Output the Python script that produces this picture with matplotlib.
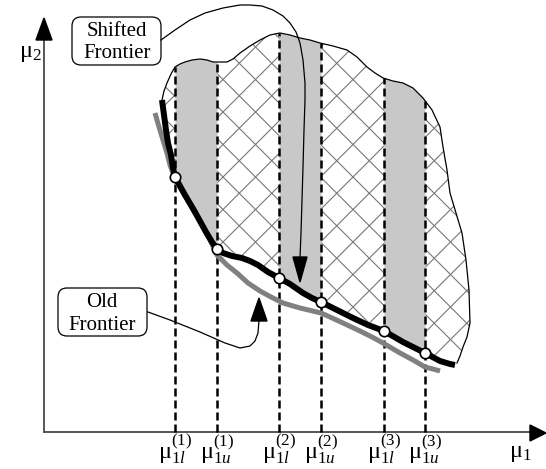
import numpy as np
import matplotlib
matplotlib.use('Agg')
import matplotlib.pyplot as plt
from matplotlib.patches import Polygon, FancyBboxPatch

plt.rcParams['font.family'] = ['Liberation Serif', 'DejaVu Serif']
plt.rcParams['mathtext.fontset'] = 'custom'
plt.rcParams['mathtext.rm'] = 'Liberation Serif'
plt.rcParams['mathtext.it'] = 'Liberation Serif:italic'

# schematic drawn in pixel units of the 546x469 picture (y grows downwards)
# shifted frontier (black, thick)
front_x = [162, 164, 166, 168, 171, 173, 175, 185, 195, 206, 212, 217, 223, 232, 242, 250,
           258, 268, 279, 290, 303, 312, 321, 337, 353, 368, 384, 403, 415, 425, 440, 450, 455]
front_y = [100, 115, 130, 143, 155, 168, 177, 195, 212, 232, 242, 249, 253, 256, 258, 261,
           265, 272, 278, 284, 293, 298, 302, 310, 318, 325, 331, 342, 348, 353, 361, 364, 365]

# old frontier (gray)
old_x = [155, 159, 163, 167, 170, 174, 178, 187, 195, 203, 210, 217, 227, 237, 248, 260,
         271, 283, 300, 321, 330, 343, 360, 372, 383, 400, 413, 425, 433, 440]
old_y = [113, 127, 140, 153, 165, 176, 184, 199, 213, 227, 240, 255, 265, 273, 283, 291,
         297, 303, 308, 313, 317, 323, 331, 337, 343, 353, 360, 367, 369, 371]

# upper/right outline of the feasible (cross-hatched) region
top_x = [162, 164, 167, 171, 175, 180, 185, 192, 200, 207, 213, 220, 227, 233, 240, 250,
         260, 270, 280, 290, 300, 310, 320, 333, 347, 357, 367, 375, 383, 393, 403, 413,
         423, 432, 440, 443, 447, 450, 456, 462, 466, 469, 470, 467, 463, 460, 457]
top_y = [100, 91, 83, 74, 67, 64, 62, 60, 59, 60, 62, 62, 62, 59, 53, 46,
         40, 35, 33, 35, 38, 40, 43, 46, 50, 57, 67, 73, 78, 81, 83, 88,
         98, 110, 127, 147, 170, 193, 213, 233, 260, 290, 323, 337, 347, 356, 363]

# interval bounds on mu_1 (dashed lines)
bounds_x = [175, 217, 279, 321, 384, 425]
bound_labels = [r'$\mathrm{\mu}_{1l}^{(1)}$', r'$\mathrm{\mu}_{1u}^{(1)}$',
                r'$\mathrm{\mu}_{1l}^{(2)}$', r'$\mathrm{\mu}_{1u}^{(2)}$',
                r'$\mathrm{\mu}_{1l}^{(3)}$', r'$\mathrm{\mu}_{1u}^{(3)}$']

# callout leaders
shift_x = [161, 175, 190, 205, 223, 240, 250, 262, 273, 283, 290, 296, 300, 303, 305, 305,
           304, 303, 302, 301, 300]
shift_y = [40, 30, 20, 13, 8, 5, 5, 6, 10, 16, 23, 32, 43, 60, 83, 100,
           130, 167, 200, 233, 258]
old_lead_x = [148, 170, 200, 225, 240, 250, 255, 258, 259]
old_lead_y = [312, 320, 332, 343, 348, 346, 341, 333, 320]

fig = plt.figure(figsize=(5.46, 4.69), dpi=100)
ax = fig.add_axes([0, 0, 1, 1])
ax.set_xlim(0, 546)
ax.set_ylim(469, 0)
ax.axis('off')

# axes with arrow heads
ax.plot([44, 44], [40, 432], color='#555555', lw=1.4, zorder=1)
ax.plot([44, 531], [432, 432], color='#555555', lw=1.4, zorder=1)
ax.add_patch(Polygon([[36, 40], [52, 40], [44, 18]], closed=True, color='black', zorder=2))
ax.add_patch(Polygon([[530, 425], [530, 441], [546, 433]], closed=True, color='black', zorder=2))

# feasible region with cross hatch
region = Polygon(np.column_stack([top_x + front_x[::-1], top_y + front_y[::-1]]),
                 closed=True, facecolor='white', edgecolor='none', zorder=1)
ax.add_patch(region)
for c in np.arange(465 - 32.5 * 20, 465 + 32.5 * 20, 32.5):
    ln, = ax.plot([0, 1000], [c, c - 1000], color='#777777', lw=0.8, zorder=2)
    ln.set_clip_path(region)
for c in np.arange(241 - 32.5 * 20, 241 + 32.5 * 20, 32.5):
    ln, = ax.plot([0, 1000], [-c, 1000 - c], color='#777777', lw=0.8, zorder=2)
    ln.set_clip_path(region)

# gray columns between the interval bounds
top_mono = slice(0, 35)
for i in range(0, 6, 2):
    xs = np.linspace(bounds_x[i], bounds_x[i + 1], 60)
    yt = np.interp(xs, top_x[top_mono], top_y[top_mono])
    yb = np.interp(xs, front_x, front_y)
    ax.fill_between(xs, yt, yb, color='#c8c8c8', lw=0, zorder=3)

ax.plot(top_x, top_y, color='black', lw=0.9, zorder=4)

# dashed bound lines
for bx in bounds_x:
    yt = np.interp(bx, top_x[top_mono], top_y[top_mono])
    ax.plot([bx, bx], [432, yt], color='black', lw=1.8, ls=(0, (3.2, 1.6)), zorder=5)

ax.plot(old_x, old_y, color='#808080', lw=3.6, solid_capstyle='butt', zorder=6)
ax.plot(front_x, front_y, color='black', lw=4.3, solid_capstyle='butt',
        solid_joinstyle='round', zorder=7)
circ_y = np.interp(bounds_x, front_x, front_y)
ax.plot(bounds_x, circ_y, 'o', ms=7.5, mfc='white', mec='black', mew=1.2, zorder=8)

# bound labels
for bx, lab in zip(bounds_x, bound_labels):
    ax.text(bx, 458, lab, fontsize=17.5, ha='center', va='baseline')
ax.text(19, 57, r'$\mathrm{\mu}_2$', fontsize=17.5, ha='left', va='baseline')
ax.text(509, 457, r'$\mathrm{\mu}_1$', fontsize=17.5, ha='left', va='baseline')

# callouts
ax.add_patch(FancyBboxPatch((72, 17), 89, 48, boxstyle='round,pad=0,rounding_size=9',
                            fc='white', ec='black', lw=0.9, zorder=9))
ax.text(117, 36, 'Shifted', fontsize=15, ha='center', va='baseline', zorder=10)
ax.text(117, 58, 'Frontier', fontsize=15, ha='center', va='baseline', zorder=10)
ax.plot(shift_x, shift_y, color='black', lw=0.9, zorder=9)
ax.add_patch(Polygon([[293, 257], [307, 257], [300, 282]], closed=True, color='black', zorder=9))

ax.add_patch(FancyBboxPatch((58, 288), 89, 48, boxstyle='round,pad=0,rounding_size=9',
                            fc='white', ec='black', lw=0.9, zorder=9))
ax.text(102, 307, 'Old', fontsize=15, ha='center', va='baseline', zorder=10)
ax.text(102, 330, 'Frontier', fontsize=15, ha='center', va='baseline', zorder=10)
ax.plot(old_lead_x, old_lead_y, color='black', lw=0.9, zorder=9)
ax.add_patch(Polygon([[251, 321], [267, 321], [259, 298]], closed=True, color='black', zorder=9))

fig.savefig('out.png', dpi=100)
